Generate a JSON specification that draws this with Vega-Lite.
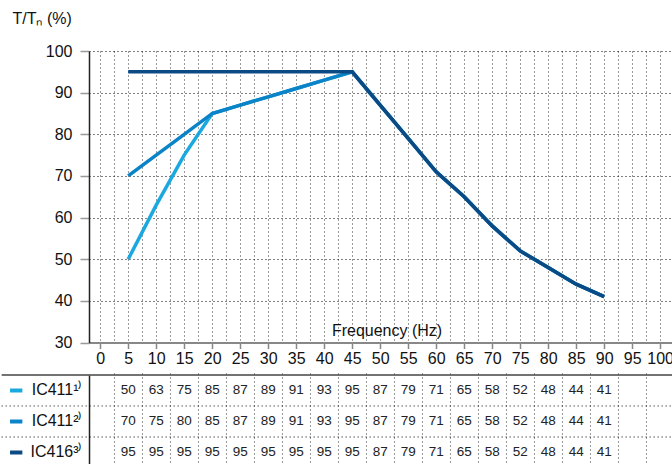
{
  "$schema": "https://vega.github.io/schema/vega-lite/v6.json",
  "padding": {"left": 0, "top": 10, "right": 0, "bottom": 0},
  "background": "white",
  "spacing": 7,
  "config": {"view": {"stroke": null}, "font": "Liberation Sans"},
  "datasets": {
    "curves": [
      {"series": "IC411¹⁾", "f": 5, "v": 50}, {"series": "IC411¹⁾", "f": 10, "v": 63}, {"series": "IC411¹⁾", "f": 15, "v": 75}, {"series": "IC411¹⁾", "f": 20, "v": 85}, {"series": "IC411¹⁾", "f": 25, "v": 87}, {"series": "IC411¹⁾", "f": 30, "v": 89}, {"series": "IC411¹⁾", "f": 35, "v": 91}, {"series": "IC411¹⁾", "f": 40, "v": 93}, {"series": "IC411¹⁾", "f": 45, "v": 95}, {"series": "IC411¹⁾", "f": 50, "v": 87}, {"series": "IC411¹⁾", "f": 55, "v": 79}, {"series": "IC411¹⁾", "f": 60, "v": 71}, {"series": "IC411¹⁾", "f": 65, "v": 65}, {"series": "IC411¹⁾", "f": 70, "v": 58}, {"series": "IC411¹⁾", "f": 75, "v": 52}, {"series": "IC411¹⁾", "f": 80, "v": 48}, {"series": "IC411¹⁾", "f": 85, "v": 44}, {"series": "IC411¹⁾", "f": 90, "v": 41},
      {"series": "IC411²⁾", "f": 5, "v": 70}, {"series": "IC411²⁾", "f": 10, "v": 75}, {"series": "IC411²⁾", "f": 15, "v": 80}, {"series": "IC411²⁾", "f": 20, "v": 85}, {"series": "IC411²⁾", "f": 25, "v": 87}, {"series": "IC411²⁾", "f": 30, "v": 89}, {"series": "IC411²⁾", "f": 35, "v": 91}, {"series": "IC411²⁾", "f": 40, "v": 93}, {"series": "IC411²⁾", "f": 45, "v": 95}, {"series": "IC411²⁾", "f": 50, "v": 87}, {"series": "IC411²⁾", "f": 55, "v": 79}, {"series": "IC411²⁾", "f": 60, "v": 71}, {"series": "IC411²⁾", "f": 65, "v": 65}, {"series": "IC411²⁾", "f": 70, "v": 58}, {"series": "IC411²⁾", "f": 75, "v": 52}, {"series": "IC411²⁾", "f": 80, "v": 48}, {"series": "IC411²⁾", "f": 85, "v": 44}, {"series": "IC411²⁾", "f": 90, "v": 41},
      {"series": "IC416³⁾", "f": 5, "v": 95}, {"series": "IC416³⁾", "f": 10, "v": 95}, {"series": "IC416³⁾", "f": 15, "v": 95}, {"series": "IC416³⁾", "f": 20, "v": 95}, {"series": "IC416³⁾", "f": 25, "v": 95}, {"series": "IC416³⁾", "f": 30, "v": 95}, {"series": "IC416³⁾", "f": 35, "v": 95}, {"series": "IC416³⁾", "f": 40, "v": 95}, {"series": "IC416³⁾", "f": 45, "v": 95}, {"series": "IC416³⁾", "f": 50, "v": 87}, {"series": "IC416³⁾", "f": 55, "v": 79}, {"series": "IC416³⁾", "f": 60, "v": 71}, {"series": "IC416³⁾", "f": 65, "v": 65}, {"series": "IC416³⁾", "f": 70, "v": 58}, {"series": "IC416³⁾", "f": 75, "v": 52}, {"series": "IC416³⁾", "f": 80, "v": 48}, {"series": "IC416³⁾", "f": 85, "v": 44}, {"series": "IC416³⁾", "f": 90, "v": 41}
    ]
  },
  "vconcat": [
    {
      "width": 584.6,
      "height": 291.5,
      "data": {"name": "curves"},
      "mark": {"type": "line", "strokeWidth": 3.5},
      "encoding": {
        "x": {
          "field": "f", "type": "quantitative",
          "scale": {"domain": [-2, 102.4], "nice": false, "zero": false},
          "axis": {
            "values": [0, 2.5, 5, 7.5, 10, 12.5, 15, 17.5, 20, 22.5, 25, 27.5, 30, 32.5, 35, 37.5, 40, 42.5, 45, 47.5, 50, 52.5, 55, 57.5, 60, 62.5, 65, 67.5, 70, 72.5, 75, 77.5, 80, 82.5, 85, 87.5, 90, 92.5, 95, 97.5, 100],
            "labelExpr": "datum.value % 5 === 0 ? datum.label : ''",
            "labelOverlap": false, "labelFlush": false, "labelBound": false,
            "labelFontSize": 16, "labelColor": "#111", "labelPadding": 2,
            "tickOpacity": {"condition": {"test": "datum.value % 5 !== 0", "value": 0}, "value": 1},
            "tickColor": "#888", "tickWidth": 1.5, "tickSize": 6,
            "domainColor": "#888", "domainWidth": 2,
            "grid": true, "gridColor": "#333", "gridDash": [1, 3], "gridWidth": 1, "gridOpacity": 1,
            "title": "Frequency (Hz)", "titleFontSize": 16, "titleFontWeight": "normal", "titleColor": "#111",
            "titleX": 297.5, "titleY": -12, "titleAlign": "center", "titleBaseline": "middle"
          }
        },
        "y": {
          "field": "v", "type": "quantitative",
          "scale": {"domain": [30, 100], "nice": false, "zero": false},
          "axis": {
            "values": [30, 40, 50, 60, 70, 80, 90, 100],
            "labelFontSize": 16, "labelColor": "#111", "labelPadding": 8,
            "tickColor": "#999", "tickWidth": 1.5, "tickSize": 9,
            "domainColor": "#222", "domainWidth": 1.5,
            "grid": true, "gridColor": "#000", "gridDash": [1, 3], "gridWidth": 1, "gridOpacity": 1,
            "title": "T/Tₙ (%)", "titleFontSize": 16, "titleFontWeight": "normal", "titleColor": "#111",
            "titleAngle": 0, "titleAlign": "left", "titleBaseline": "middle", "titleX": -77, "titleY": -33
          }
        },
        "color": {
          "field": "series", "type": "nominal",
          "scale": {"domain": ["IC411¹⁾", "IC411²⁾", "IC416³⁾"], "range": ["#1aa8e0", "#0b83c8", "#0c4a84"]},
          "legend": null
        }
      }
    },
    {
      "width": 584.6,
      "height": 91,
      "data": {"name": "curves"},
      "encoding": {
        "x": {
          "field": "f", "type": "quantitative",
          "scale": {"domain": [-2, 102.4], "nice": false, "zero": false},
          "axis": {
            "values": [2.5, 7.5, 12.5, 17.5, 22.5, 27.5, 32.5, 37.5, 42.5, 47.5, 52.5, 57.5, 62.5, 67.5, 72.5, 77.5, 82.5, 87.5, 92.5, 97.5],
            "labels": false, "ticks": false, "domain": false, "title": null,
            "grid": true, "gridColor": "#333", "gridDash": [1, 3], "gridWidth": 1, "gridOpacity": 1
          }
        },
        "y": {
          "field": "series", "type": "nominal",
          "scale": {"domain": ["IC411¹⁾", "IC411²⁾", "IC416³⁾"], "range": [0, 93], "paddingInner": 0, "paddingOuter": 0},
          "axis": {
            "ticks": false, "grid": false, "title": null,
            "domainColor": "#222", "domainWidth": 1.5,
            "labelFontSize": 16, "labelColor": "#111", "labelPadding": 7, "labelBaseline": "middle"
          }
        }
      },
      "layer": [
        {
          "transform": [{"filter": "datum.f === 5 && datum.series === 'IC411¹⁾'"}],
          "mark": {"type": "rule", "color": "#444", "strokeWidth": 1.5},
          "encoding": {
            "x": {"datum": -17.6},
            "x2": {"datum": 102.4},
            "y": {"field": "series", "type": "nominal", "bandPosition": 0}
          }
        },
        {
          "transform": [{"filter": "datum.f === 5 && datum.series !== 'IC411¹⁾'"}],
          "mark": {"type": "rule", "color": "#000", "strokeWidth": 1, "strokeDash": [1, 3]},
          "encoding": {
            "x": {"datum": -17.6},
            "x2": {"datum": 102.4},
            "y": {"field": "series", "type": "nominal", "bandPosition": 0}
          }
        },
        {
          "transform": [{"filter": "datum.f === 5"}],
          "mark": {"type": "rule", "strokeWidth": 4},
          "encoding": {
            "x": {"datum": -16.1},
            "x2": {"datum": -13.9},
            "color": {
              "field": "series", "type": "nominal",
              "scale": {"domain": ["IC411¹⁾", "IC411²⁾", "IC416³⁾"], "range": ["#1aa8e0", "#0b83c8", "#0c4a84"]},
              "legend": null
            }
          }
        },
        {
          "mark": {"type": "text", "fontSize": 13.5, "color": "#222", "baseline": "middle"},
          "encoding": {
            "text": {"field": "v", "type": "quantitative"}
          }
        }
      ]
    }
  ]
}
